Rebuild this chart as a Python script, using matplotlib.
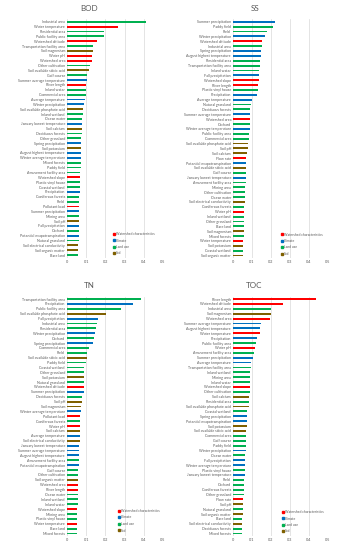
import numpy as np
import matplotlib
matplotlib.use("Agg")
from matplotlib import pyplot as plt
from matplotlib.lines import Line2D

plt.rcParams['font.family'] = ['Lato', 'DejaVu Sans']

# group codes: W = watershed characteristics, C = climate, L = land use, S = soil
group_names = ["Watershed characteristics", "Climate", "Land use", "Soil"]
group_colors = {"W": "#FF0000", "C": "#0070C0", "L": "#00B050", "S": "#7F6000"}

bod_labels = ["Industrial area", "Water temperature", "Residential area", "Public facility area",
              "Watershed altitude", "Transportation facility area", "Soil magnesium", "Water pH",
              "Watershed area", "Other cultivation", "Soil available silicic acid", "Golf course",
              "Summer average temperature", "River length", "Inland water", "Commercial area",
              "Average temperature", "Winter precipitation", "Soil available phosphate acid",
              "Inland wetland", "Ocean water", "January lowest temperature", "Soil calcium",
              "Deciduous forests", "Other grassland", "Spring precipitation", "Soil potassium",
              "August highest temperature", "Winter average temperature", "Mixed forests",
              "Paddy field", "Amusement facility area", "Watershed slope", "Plastic vinyl house",
              "Coastal wetland", "Precipitation", "Coniferous forests", "Field", "Pollutant load",
              "Summer precipitation", "Mining area", "Soil pH", "Fall precipitation", "Orchard",
              "Potential evapotranspiration", "Natural grassland", "Soil electrical conductivity",
              "Soil organic matter", "Bare land"]
bod_values = [0.414, 0.267, 0.193, 0.193, 0.157, 0.136, 0.136, 0.128, 0.128, 0.120, 0.115, 0.105,
              0.105, 0.100, 0.100, 0.097, 0.093, 0.086, 0.083, 0.081, 0.080, 0.078, 0.078, 0.076,
              0.075, 0.074, 0.074, 0.073, 0.072, 0.071, 0.071, 0.070, 0.069, 0.068, 0.067, 0.066,
              0.065, 0.064, 0.064, 0.063, 0.062, 0.062, 0.061, 0.060, 0.060, 0.060, 0.059, 0.059,
              0.058]
bod_groups = ["L", "W", "L", "L", "W", "L", "S", "W", "W", "L", "S", "L", "C", "W", "L", "L", "C",
              "C", "S", "L", "L", "C", "S", "L", "L", "C", "S", "C", "C", "L", "L", "L", "W", "L",
              "L", "C", "L", "L", "W", "C", "L", "S", "C", "L", "C", "L", "S", "S", "L"]

ss_labels = ["Summer precipitation", "Paddy field", "Field", "Winter precipitation",
             "Watershed altitude", "Industrial area", "Spring precipitation",
             "August highest temperature", "Residential area", "Transportation facility area",
             "Inland water", "Fall precipitation", "Watershed slope", "River length",
             "Plastic vinyl house", "Precipitation", "Average temperature", "Natural grassland",
             "Deciduous forests", "Summer average temperature", "Watershed area", "Orchard",
             "Winter average temperature", "Public facility area", "Commercial area",
             "Soil available phosphate acid", "Soil pH", "Soil calcium", "Flow rate",
             "Potential evapotranspiration", "Soil available silicic acid", "Golf course",
             "January lowest temperature", "Amusement facility area", "Mining area",
             "Other cultivation", "Ocean water", "Soil electrical conductivity",
             "Coniferous forests", "Water pH", "Inland wetland", "Other grassland", "Bare land",
             "Soil magnesium", "Mixed forests", "Water temperature", "Soil potassium",
             "Coastal wetland", "Soil organic matter"]
ss_values = [0.223, 0.212, 0.179, 0.168, 0.151, 0.151, 0.149, 0.147, 0.142, 0.142, 0.137, 0.135,
             0.135, 0.132, 0.130, 0.128, 0.098, 0.095, 0.091, 0.091, 0.089, 0.088, 0.088, 0.086,
             0.084, 0.081, 0.081, 0.072, 0.070, 0.070, 0.070, 0.068, 0.068, 0.067, 0.065, 0.063,
             0.063, 0.061, 0.060, 0.060, 0.058, 0.058, 0.058, 0.056, 0.056, 0.053, 0.053, 0.053,
             0.051]
ss_groups = ["C", "L", "L", "C", "W", "L", "C", "C", "L", "L", "L", "C", "W", "W", "L", "C", "C",
             "L", "L", "C", "W", "L", "C", "L", "L", "S", "S", "S", "W", "C", "S", "L", "C", "L",
             "L", "L", "L", "S", "L", "W", "L", "L", "L", "S", "L", "W", "S", "L", "S"]

tn_labels = ["Transportation facility area", "Precipitation", "Public facility area",
             "Soil available phosphate acid", "Fall precipitation", "Industrial area",
             "Residential area", "Winter precipitation", "Orchard", "Spring precipitation",
             "Commercial area", "Field", "Soil available silicic acid", "Paddy field",
             "Coastal wetland", "Other grassland", "Soil potassium", "Natural grassland",
             "Watershed altitude", "Summer precipitation", "Deciduous forests", "Soil pH",
             "Soil magnesium", "Winter average temperature", "Pollutant load", "Coniferous forests",
             "Water pH", "Soil calcium", "Average temperature", "Soil electrical conductivity",
             "January lowest temperature", "Summer average temperature",
             "August highest temperature", "Amusement facility area",
             "Potential evapotranspiration", "Golf course", "Other cultivation",
             "Soil organic matter", "Watershed area", "River length", "Ocean water",
             "Inland wetland", "Inland water", "Watershed slope", "Mining area",
             "Plastic vinyl house", "Water temperature", "Bare land", "Mixed forests"]
tn_values = [0.383, 0.345, 0.283, 0.203, 0.162, 0.157, 0.152, 0.145, 0.143, 0.138, 0.117, 0.105,
             0.103, 0.097, 0.090, 0.088, 0.088, 0.086, 0.086, 0.086, 0.078, 0.078, 0.074, 0.072,
             0.069, 0.069, 0.069, 0.067, 0.067, 0.066, 0.064, 0.064, 0.062, 0.060, 0.060, 0.059,
             0.059, 0.059, 0.057, 0.057, 0.055, 0.055, 0.055, 0.053, 0.053, 0.053, 0.052, 0.052,
             0.050]
tn_groups = ["L", "C", "L", "S", "C", "L", "L", "C", "L", "C", "L", "L", "S", "L", "L", "L", "S",
             "L", "W", "C", "L", "S", "S", "C", "W", "L", "W", "S", "C", "S", "C", "C", "C", "L",
             "C", "L", "L", "S", "W", "W", "L", "L", "L", "W", "L", "L", "W", "L", "L"]

toc_labels = ["River length", "Watershed altitude", "Industrial area", "Soil magnesium",
              "Watershed area", "Summer average temperature", "August highest temperature",
              "Water temperature", "Precipitation", "Public facility area", "Water pH",
              "Amusement facility area", "Summer precipitation", "Average temperature",
              "Transportation facility area", "Inland wetland", "Mining area", "Inland water",
              "Watershed slope", "Other cultivation", "Soil calcium", "Residential area",
              "Soil available phosphate acid", "Coastal wetland", "Spring precipitation",
              "Potential evapotranspiration", "Soil potassium", "Soil available silicic acid",
              "Commercial area", "Golf course", "Paddy field", "Winter precipitation",
              "Ocean water", "Fall precipitation", "Winter average temperature",
              "Plastic vinyl house", "January lowest temperature", "Field", "Orchard",
              "Coniferous forests", "Other grassland", "Flow rate", "Soil pH", "Natural grassland",
              "Soil organic matter", "Bare land", "Soil electrical conductivity",
              "Deciduous forests", "Mixed forests"]
toc_values = [0.437, 0.261, 0.202, 0.198, 0.193, 0.149, 0.144, 0.140, 0.126, 0.123, 0.116, 0.109,
              0.105, 0.095, 0.093, 0.091, 0.089, 0.089, 0.089, 0.088, 0.084, 0.084, 0.082, 0.074,
              0.072, 0.072, 0.072, 0.070, 0.068, 0.068, 0.068, 0.067, 0.063, 0.063, 0.061, 0.061,
              0.061, 0.060, 0.058, 0.058, 0.058, 0.054, 0.053, 0.053, 0.051, 0.049, 0.049, 0.047,
              0.046]
toc_groups = ["W", "W", "L", "S", "W", "C", "C", "W", "C", "L", "W", "L", "C", "C", "L", "L", "L",
              "L", "W", "L", "S", "L", "S", "L", "C", "C", "S", "S", "L", "L", "L", "C", "L", "C",
              "C", "L", "C", "L", "L", "L", "L", "W", "S", "L", "S", "L", "S", "L", "L"]

xticks = [0, 0.1, 0.2, 0.3, 0.4, 0.5]
xticklabels = ["0", "0.1", "0.2", "0.3", "0.4", "0.5"]

W, H = 337, 550
fig = plt.figure(figsize=(W / 100, H / 100), dpi=100)


def panel(rect_px, title, labels, values, groups, title_xy, legend_xy):
    x0, x1, y0, y1 = rect_px
    ax = fig.add_axes([x0 / W, 1 - y1 / H, (x1 - x0) / W, (y1 - y0) / H])
    y = np.arange(len(labels))
    colors = [group_colors[g] for g in groups]
    ax.barh(y, values, height=0.38, color=colors, zorder=3)
    ax.set_ylim(len(labels) - 0.5, -0.5)
    ax.set_xlim(0, 0.5)
    ax.set_yticks(y)
    ax.set_yticklabels(labels, fontsize=2.6, color="#595959")
    ax.set_xticks(xticks)
    ax.set_xticklabels(xticklabels, fontsize=2.8, color="#595959")
    ax.tick_params(length=0, pad=1.5)
    ax.grid(axis="x", color="#D9D9D9", linewidth=0.5, zorder=0)
    for s in ax.spines.values():
        s.set_visible(False)
    fig.text(title_xy[0] / W, 1 - title_xy[1] / H, title, fontsize=5.8, color="#595959",
             ha="center", va="center")
    handles = [Line2D([], [], marker="s", linestyle="", markersize=1.6,
                      color=group_colors[k]) for k in ["W", "C", "L", "S"]]
    ax.legend(handles, group_names, loc="upper left",
              bbox_to_anchor=(legend_xy[0] / W, 1 - legend_xy[1] / H),
              bbox_transform=fig.transFigure, frameon=False, fontsize=2.4,
              handlelength=0.6, handletextpad=0.4, labelspacing=0.75, borderpad=0,
              borderaxespad=0, labelcolor="#595959")
    return ax


panel((67, 163, 19.3, 257.5), "BOD", bod_labels, bod_values, bod_groups, (89, 8.3), (112.5, 232))
panel((233, 328, 19.3, 258), "SS", ss_labels, ss_values, ss_groups, (255, 8.3), (280.5, 232.5))
panel((67, 163, 296.6, 536), "TN", tn_labels, tn_values, tn_groups, (89, 286), (118, 509))
panel((233, 328, 296.6, 536), "TOC", toc_labels, toc_values, toc_groups, (254, 286), (281.5, 510))

fig.savefig("out.png", dpi=100)
